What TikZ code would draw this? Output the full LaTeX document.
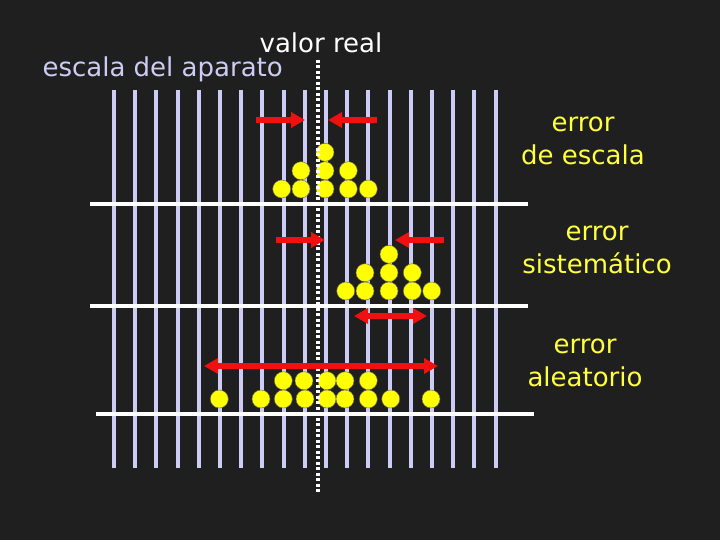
\documentclass[tikz,border=0pt]{standalone}
\usepackage{fontspec}
\setmainfont{DejaVu Sans}
\usetikzlibrary{arrows.meta}
\definecolor{fondo}{RGB}{31,31,31}
\definecolor{lila}{RGB}{204,204,245}
\definecolor{rojo}{RGB}{240,16,16}
\definecolor{amarillo}{RGB}{255,255,0}
\definecolor{textoam}{RGB}{255,255,64}
\begin{document}
\begin{tikzpicture}[x=1pt,y=-1pt,>={Triangle[width=15pt,length=14pt]},
    raya/.style={lila,line width=4pt},
    eje/.style={white,line width=4pt},
    flecha/.style={rojo,line width=6pt},
    bola/.style={fill=amarillo,draw=black!60,line width=0.4pt},
    rotulo/.style={font=\fontsize{26}{33}\selectfont,inner sep=0pt,align=center}]
    \fill[fondo] (0,0) rectangle (720,540);
    \foreach \i in {0,...,18}{
        \draw[raya] ({114+21.2*\i},90) -- ({114+21.2*\i},468);%escala
    }
    \foreach \y/\a/\b in {204/90/528,306/90/528,414/96/534}{
        \draw[eje] (\a,\y) -- (\b,\y);
    }
    % medidas
    \foreach \x/\y in {281.7/189,301/189,325/189,348.3/189,368.3/189,
        301/170.7,325/170.7,348.3/170.7,325/152.3}{
        \filldraw[bola] (\x,\y) circle (9pt);
    }
    \foreach \x/\y in {345.7/291,365/291,389/291,412.3/291,431.7/291,
        365/272.7,389/272.7,412.3/272.7,389/254.3}{
        \filldraw[bola] (\x,\y) circle (9pt);
    }
    \foreach \x/\y in {219.3/399,261/399,283.3/399,305/399,327/399,345/399,
        368.3/399,390.7/399,431/399,
        283.3/380.7,304/380.7,327/380.7,345/380.7,368.3/380.7}{
        \filldraw[bola] (\x,\y) circle (9pt);
    }
    \draw[white,line width=4pt,dash pattern=on 3pt off 2.5pt] (318,60) -- (318,494);%valor real
    \node[rotulo,white,anchor=base] (valor) at (321,53) {valor real};
    \node[rotulo,lila,anchor=base east] (aparato) at (283,77) {escala del aparato};
    \node[rotulo,textoam,anchor=base] (escala) at (583,165) {error\\de escala};
    \node[rotulo,textoam,anchor=base] (sistematico) at (597,273) {error\\sistemático};
    \node[rotulo,textoam,anchor=base] (aleatorio) at (585,386.7) {error\\aleatorio};
    % flechas
    \coordinate (a1) at (256,120); \coordinate (b1) at (305,120);
    \coordinate (c1) at (377,120); \coordinate (d1) at (328,120);
    \coordinate (a2) at (276,240); \coordinate (b2) at (325,240);
    \coordinate (c2) at (444,240); \coordinate (d2) at (395,240);
    \coordinate (e2) at (354,316); \coordinate (f2) at (427,316);
    \coordinate (a3) at (204,366); \coordinate (b3) at (438,366);
    \draw[flecha,->] (a1) -- (b1);
    \draw[flecha,->] (c1) -- (d1);
    \draw[flecha,->] (a2) -- (b2);
    \draw[flecha,->] (c2) -- (d2);
    \draw[flecha,<->] (e2) -- (f2);
    \draw[flecha,<->] (a3) -- (b3);
\end{tikzpicture}
\end{document}
